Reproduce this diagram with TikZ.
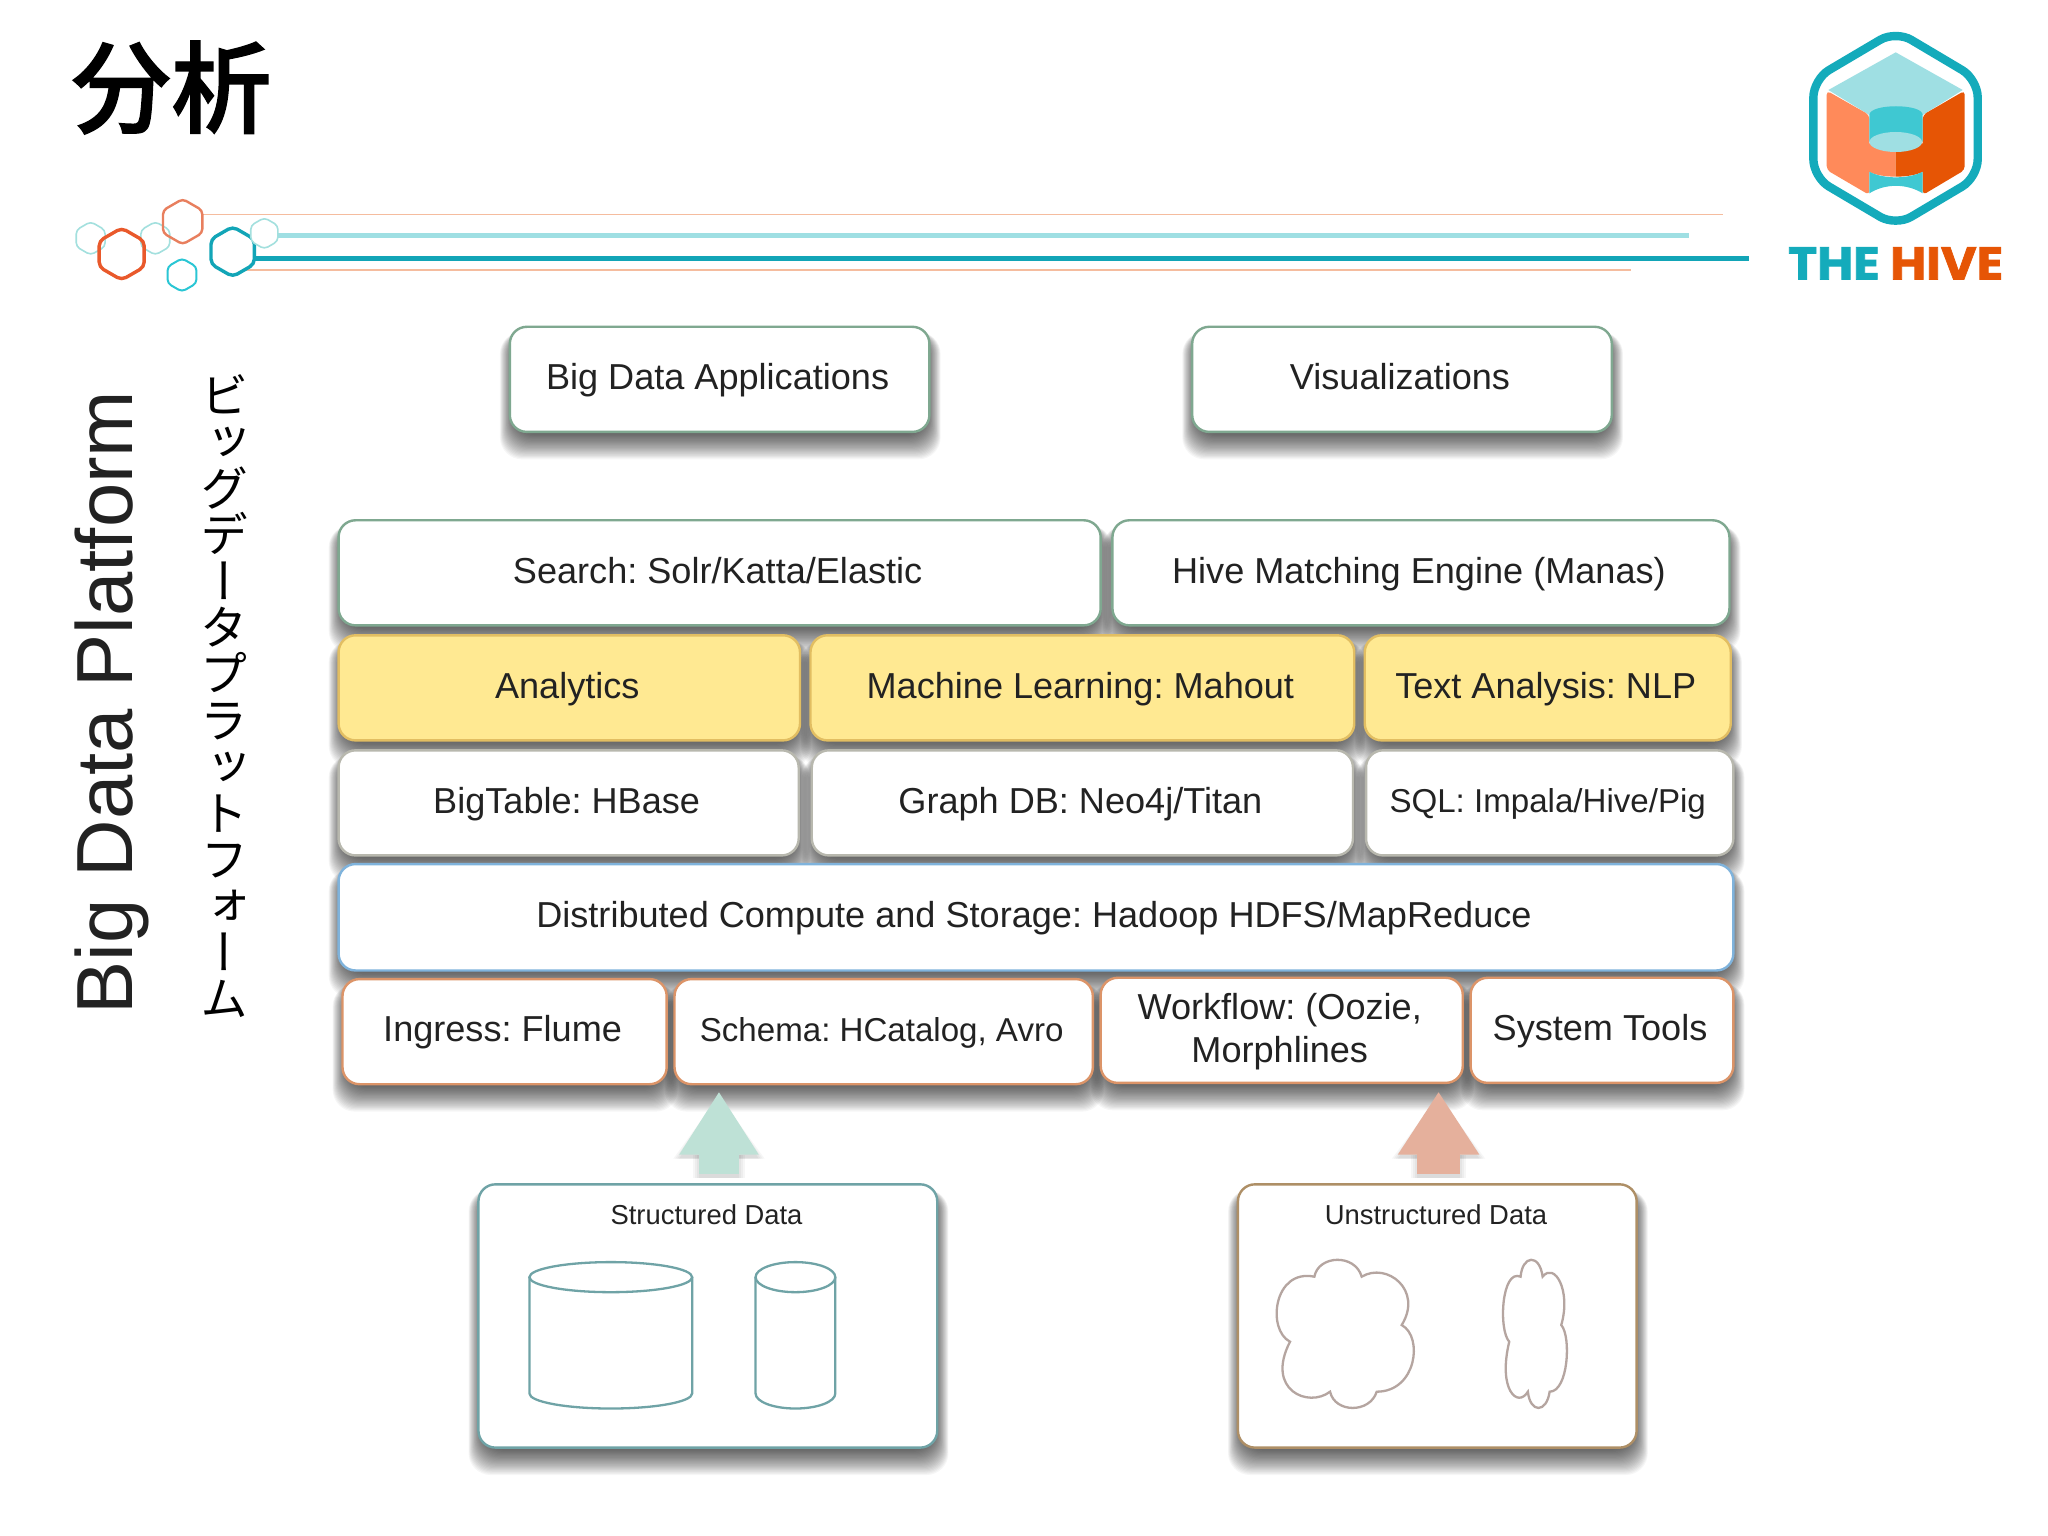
\documentclass[tikz,border=0pt]{standalone}
\usepackage{fontspec}
\setmainfont{Liberation Sans}
\newfontfamily\jpfont[FakeBold=1.3]{Noto Sans CJK JP Medium}
\newfontfamily\jpvert[RawFeature=+vert]{Noto Sans CJK JP}
\newfontfamily\logofont[BoldFeatures={FakeBold=1.5,FakeStretch=1.07}]{Poppins}
\usetikzlibrary{arrows.meta,calc}
\pgfdeclarelayer{bg}
\pgfsetlayers{bg,main}
\definecolor{txt}{HTML}{222222}
\definecolor{cgreen}{HTML}{7FA890}
\definecolor{cyelfill}{HTML}{FFE992}
\definecolor{cyel}{HTML}{E2BE62}
\definecolor{cgray}{HTML}{B8B8AE}
\definecolor{cblue}{HTML}{7FB3DC}
\definecolor{corange}{HTML}{DC9468}
\definecolor{cteal}{HTML}{6FA3A6}
\definecolor{ctan}{HTML}{AE8F66}
\definecolor{lteal}{HTML}{A3E0DE}
\definecolor{dteal}{HTML}{12A5B7}
\definecolor{bteal}{HTML}{2AC6D4}
\definecolor{horange}{HTML}{E9592B}
\definecolor{hsalmon}{HTML}{E87F5E}
\definecolor{lsalmon}{HTML}{F5BC9E}
\definecolor{lfront}{HTML}{FF8A5A}
\definecolor{rfront}{HTML}{E65505}
\definecolor{ltop}{HTML}{9FDFE3}
\definecolor{mteal}{HTML}{3FC8D2}
\definecolor{cloudc}{HTML}{B5A5A0}
\definecolor{logoteal}{HTML}{14ABBB}
\definecolor{arrowa}{HTML}{BEE1D6}
\definecolor{arrowb}{HTML}{E5B09C}
\tikzset{
  box/.style={draw,fill=white,line width=1.2pt,rounded corners=8.5pt,inner sep=0pt,text=txt,align=center,
    font=\fontsize{18.05}{21.6}\selectfont},
  bgreen/.style={box,draw=cgreen},
  byellow/.style={box,draw=cyel,fill=cyelfill},
  bgray/.style={box,draw=cgray},
  bblue/.style={box,draw=cblue},
  borange/.style={box,draw=corange},
  smalltxt/.style={font=\fontsize{16.55}{20}\selectfont},
  schem/.style={draw=cteal,line width=1.15pt},
  cloudst/.style={draw=cloudc,line width=1.15pt,fill=white},
  hexthin/.style={draw=lteal,line width=.8pt,rounded corners=2pt},
  bigtitle/.style={font=\fontsize{13.7}{16}\selectfont,text=txt,inner sep=0pt},
}
\newcommand{\bx}[7]{%
  \pgfmathsetmacro{\bw}{(#4-#2-1)*0.6536}%
  \pgfmathsetmacro{\bh}{(#5-#3-0.6)*0.6536}%
  \begin{pgfonlayer}{bg}
  \foreach \e in {0,1,...,22}{%
    \fill[black,opacity=.036,rounded corners=11pt]
      ({#2-\e*.48+3},{#3+4}) rectangle ({#4+\e*.48-3},{#5+\e*.88+1});
  }
  \end{pgfonlayer}
  \node[#6,minimum width=\bw pt,minimum height=\bh pt] (#1) at ({(#2+#4-1)/2},{(#3+#5-0.6)/2}) {\vphantom{g}\rule{0pt}{.78em}#7\hspace*{2pt}};
}
\newcommand{\hexa}[4]{%
  \draw[#4] (#1,#2) +(90:#3) -- +(30:#3) -- +(-30:#3) -- +(-90:#3) -- +(-150:#3) -- +(150:#3) -- cycle;
}
\newcommand{\cloudpath}{%
  \draw[cloudst] (283,590) .. controls (295,525) and (405,520) .. (425,590)
  .. controls (500,545) and (610,630) .. (545,735)
  .. controls (610,770) and (590,935) .. (470,935)
  .. controls (450,1000) and (345,1000) .. (330,935)
  .. controls (265,985) and (135,930) .. (210,785)
  .. controls (140,750) and (160,565) .. (283,590) -- cycle;
}
\frenchspacing
\begin{document}
\begin{tikzpicture}[x=0.6536pt,y=-0.6536pt]
\useasboundingbox (0,0) rectangle (1566.7,1175);
\begin{pgfonlayer}{bg}
\fill[white] (0,0) rectangle (1566.7,1175);
\end{pgfonlayer}

% title
\node[font=\jpfont\fontsize{50}{50}\selectfont,inner sep=0pt,text=black] (title) at (131,67) {分析};
\node[rotate=90,font=\fontsize{39.8}{39.8}\selectfont,inner sep=0pt,text=txt] (platform) at (85.5,537.5) {Big Data Platform};
\node[font=\jpvert\fontsize{24}{23.2}\selectfont,inner sep=0pt,align=center,text=black] (platformjp) at (172,532.5)
  {ビ\\ッ\\グ\\デ\\ー\\タ\\プ\\ラ\\ッ\\ト\\フ\\ォ\\ー\\ム};

% decorative rules
\coordinate (r1a) at (155,164.2); \coordinate (r1b) at (1318,164.2);
\coordinate (r2a) at (205,179.8); \coordinate (r2b) at (1292,179.8);
\coordinate (r3a) at (190,197.6); \coordinate (r3b) at (1338,197.6);
\coordinate (r4a) at (185,206.5); \coordinate (r4b) at (1248,206.5);
\draw[lsalmon,line width=.8pt] (r1a) -- (r1b);
\draw[ltop,line width=2.5pt] (r2a) -- (r2b);
\draw[dteal,line width=2.5pt] (r3a) -- (r3b);
\draw[lsalmon,line width=.8pt] (r4a) -- (r4b);
\begin{scope}[shift={(38.25,137.7)},scale=0.255]
  \hexa{122}{175}{50}{hexthin}
  \hexa{316}{175}{50}{hexthin}
  \hexa{398}{125}{68}{draw=hsalmon,line width=1.2pt,rounded corners=2pt}
  \hexa{215}{222}{78}{draw=horange,line width=1.7pt,rounded corners=2.5pt}
  \hexa{396}{285}{50}{draw=bteal,line width=1pt,rounded corners=2pt}
  \hexa{548}{215}{75}{draw=dteal,line width=1.7pt,rounded corners=2.5pt,fill=white}
  \hexa{643}{160}{47}{hexthin,fill=white}
\end{scope}

% logo
\begin{scope}[shift={(1331.1,0)},scale=0.255]
  \draw[logoteal,line width=4.2pt,rounded corners=9pt,fill=white]
    (467,92) -- (713,238) -- (713,532) -- (467,678) -- (220,532) -- (220,238) -- cycle;
  \fill[ltop] (467,157) -- (668,270) -- (548,345) -- (388,345) -- (265,270) -- cycle;
  \fill[lfront,rounded corners=2pt] (260,272) -- (388,345) -- (388,585) -- (260,510) -- cycle;
  \fill[rfront,rounded corners=2pt] (674,272) -- (548,345) -- (548,585) -- (674,510) -- cycle;
  \fill[mteal] (388,345) .. controls (388,310) and (548,310) .. (548,345) -- (548,425) -- (388,425) -- cycle;
  \fill[lfront] (387,430) -- (467,430) -- (467,530) .. controls (435,530) and (405,525) .. (387,515) -- cycle;
  \fill[rfront] (549,430) -- (467,430) -- (467,530) .. controls (500,530) and (530,525) .. (549,515) -- cycle;
  \fill[mteal] (388,515) .. controls (405,525) and (435,532) .. (467,532) .. controls (500,532) and (530,525) .. (548,515)
    -- (548,580) .. controls (500,550) and (435,550) .. (388,580) -- cycle;
  \fill[ltop] (467,426) ellipse [x radius=79,y radius=30];
  \node[inner sep=0pt,font=\logofont\bfseries\fontsize{23}{23}\selectfont] (logotext) at (467,790)
    {\textcolor{logoteal}{THE} \textcolor{rfront}{HIVE}};
\end{scope}

% stack boxes
\bx{bda}{390}{250}{712}{331}{bgreen}{Big Data Applications}
\bx{vis}{912}{250}{1234}{331}{bgreen}{Visualizations}
\bx{search}{259}{398}{843}{479}{bgreen}{Search: Solr/Katta/Elastic}
\bx{hme}{851}{398}{1324}{479}{bgreen}{Hive Matching Engine (Manas)}
\bx{ana}{259}{486}{613}{567}{byellow}{Analytics}
\bx{ml}{620}{486}{1037}{567}{byellow}{Machine Learning: Mahout}
\bx{nlp}{1044}{486}{1325}{567}{byellow}{Text Analysis: NLP}
\bx{btab}{259}{574}{612}{655}{bgray}{BigTable: HBase}
\bx{gdb}{621}{574}{1036}{655}{bgray}{Graph DB: Neo4j/Titan}
\bx{sql}{1045}{574}{1327}{655}{bgray,smalltxt}{SQL: Impala/Hive/Pig}
\bx{dcs}{259}{661}{1327}{743}{bblue}{Distributed Compute and Storage: Hadoop HDFS/MapReduce}
\bx{ing}{262}{749}{511}{830}{borange}{Ingress: Flume}
\bx{sch}{516}{749}{837}{830}{borange,smalltxt}{Schema: HCatalog, Avro}
\bx{wfl}{842}{748}{1120}{829}{borange}{Workflow: (Oozie,\hspace*{2pt}\\Morphlines}
\bx{sys}{1125}{748}{1327}{829}{borange}{System Tools}

% block arrows
\coordinate (a1t) at (550,835); \coordinate (a1b) at (550,898);
\coordinate (a2t) at (1100.5,835); \coordinate (a2b) at (1100.5,898);
\foreach \w in {0,2,4,6}{
  \draw[black,opacity=.035,line width={19.6pt+\w pt},-{Triangle[width={37.5pt+\w pt},length=31.6pt]}] ([yshift=-2pt]a1b) -- ([yshift=-2pt]a1t);
  \draw[black,opacity=.035,line width={21.6pt+\w pt},-{Triangle[width={38.5pt+\w pt},length=31.6pt]}] ([yshift=-2pt]a2b) -- ([yshift=-2pt]a2t);
}
\draw[arrowa,line width=19.6pt,-{Triangle[width=37.5pt,length=31.6pt]}] (a1b) -- (a1t);
\draw[arrowb,line width=21.6pt,-{Triangle[width=38.5pt,length=31.6pt]}] (a2b) -- (a2t);

% data boxes
\bx{sd}{366}{906}{718}{1108}{box,draw=cteal}{}
\bx{ud}{947}{906}{1253}{1108}{box,draw=ctan}{}
\node[bigtitle] (sdl) at (540.5,929.5) {Structured Data};
\node[bigtitle] (udl) at (1098.5,929.5) {Unstructured Data};

% cylinders
\draw[schem] (405,977) -- (405,1066) arc[start angle=180,end angle=0,x radius=62.25,y radius=11.5] -- (529.5,977);
\draw[schem] (467.25,977) ellipse [x radius=62.25,y radius=11.5];
\draw[schem] (578,977) -- (578,1066) arc[start angle=180,end angle=0,x radius=30.5,y radius=11.5] -- (639,977);
\draw[schem] (608.5,977) ellipse [x radius=30.5,y radius=11.5];

% clouds
\begin{scope}[shift={(933.3,826.2)},scale=0.255]
  \cloudpath
\end{scope}
\begin{scope}[shift={(1129.6,826.2)},xscale=0.1188,yscale=0.255]
  \cloudpath
\end{scope}
\end{tikzpicture}
\end{document}
